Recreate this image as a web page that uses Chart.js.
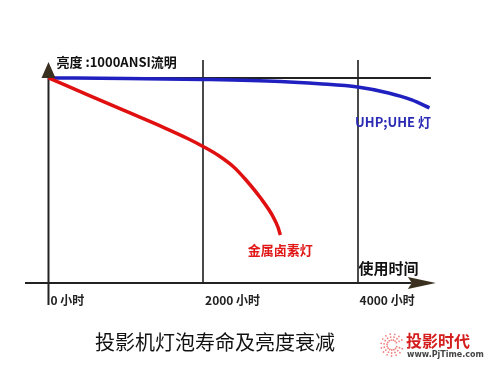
<!DOCTYPE html>
<html>
<head>
<meta charset="utf-8">
<script src="https://cdn.jsdelivr.net/npm/chart.js@4/dist/chart.umd.min.js"></script>
<style>
  html, body { margin: 0; padding: 0; background: #fff; }
  #wrap { width: 500px; height: 375px; }
</style>
</head>
<body>
<div id="wrap"><canvas id="lampChart" width="500" height="375"></canvas></div>
<script>
// Datos del gráfico
const metalHalideHours = [0, 500, 1000, 1500, 1800, 2000, 2200, 2400, 2550, 2750, 2900, 2970, 3000];
const metalHalideLumens = [1000, 919, 838, 757, 705, 666, 622, 565, 505, 412, 328, 272, 234];
const uhpHours = [0, 1000, 2000, 3000, 3500, 4000, 4400, 4700, 4930];
const uhpLumens = [1000, 998, 993, 983, 972, 956, 927, 893, 854];
const gridHours = [2000, 4000];
const tickHours = [0, 2000, 4000];
const tickLabels = ['0 小时', '2000 小时', '4000 小时'];
const seriesNames = ['金属卤素灯', 'UHP;UHE 灯'];

const CJK = '"Noto Sans CJK SC", "Noto Sans", sans-serif';

const toPoints = (xs, ys) => xs.map((x, i) => ({ x: x, y: ys[i] }));

// Ejes, flechas y textos
const decorPlugin = {
    id: 'decor',
    beforeDatasetsDraw(chart) {
        const ctx = chart.ctx;
        const xs = chart.scales.x;
        const ys = chart.scales.y;
        const x0 = xs.getPixelForValue(0);
        const yTop = ys.getPixelForValue(1000);
        const yBase = ys.getPixelForValue(0);
        ctx.save();
        ctx.lineCap = 'butt';

        // líneas verticales 2000 / 4000
        ctx.strokeStyle = '#4a4a4a';
        ctx.lineWidth = 2;
        gridHours.forEach(h => {
            const px = Math.round(xs.getPixelForValue(h));
            ctx.beginPath();
            ctx.moveTo(px, yTop - 18);
            ctx.lineTo(px, yBase);
            ctx.stroke();
        });

        // línea de referencia superior
        ctx.strokeStyle = '#222';
        ctx.beginPath();
        ctx.moveTo(x0, yTop);
        ctx.lineTo(xs.getPixelForValue(5000) - 4, yTop);
        ctx.stroke();

        // eje X
        ctx.beginPath();
        ctx.moveTo(xs.getPixelForValue(-304), yBase);
        ctx.lineTo(xs.getPixelForValue(4700), yBase);
        ctx.stroke();

        // eje Y
        ctx.beginPath();
        ctx.moveTo(x0, ys.getPixelForValue(-107));
        ctx.lineTo(x0, yTop - 6);
        ctx.stroke();
        ctx.restore();
    },
    afterDatasetsDraw(chart) {
        const ctx = chart.ctx;
        const xs = chart.scales.x;
        const ys = chart.scales.y;
        const x0 = xs.getPixelForValue(0);
        const yTop = ys.getPixelForValue(1000);
        const yBase = ys.getPixelForValue(0);
        ctx.save();

        // flecha eje Y
        ctx.fillStyle = '#3a3020';
        ctx.beginPath();
        ctx.moveTo(x0, yTop - 16);
        ctx.lineTo(x0 - 7, yTop);
        ctx.lineTo(x0 + 7, yTop);
        ctx.closePath();
        ctx.fill();

        // flecha eje X
        const xa = xs.getPixelForValue(4650);
        ctx.beginPath();
        ctx.moveTo(xa + 28, yBase);
        ctx.lineTo(xa, yBase - 6);
        ctx.lineTo(xa + 4, yBase);
        ctx.lineTo(xa, yBase + 6);
        ctx.closePath();
        ctx.fill();

        ctx.textBaseline = 'middle';
        ctx.textAlign = 'left';

        // título eje Y
        ctx.fillStyle = '#111';
        ctx.font = 'bold 13px ' + CJK;
        ctx.fillText('亮度 :1000ANSI流明', x0 + 8, yTop - 16);

        // título eje X
        ctx.font = 'bold 15px ' + CJK;
        ctx.fillText('使用时间', xs.getPixelForValue(4000) + 1, yBase - 15);

        // etiquetas de horas
        ctx.font = 'bold 12px ' + CJK;
        ctx.fillStyle = '#222';
        tickHours.forEach((h, i) => {
            ctx.fillText(tickLabels[i], xs.getPixelForValue(h) + 2, yBase + 17);
        });

        // nombres de series
        ctx.font = 'bold 13px ' + CJK;
        ctx.fillStyle = '#e01818';
        ctx.textAlign = 'center';
        ctx.fillText(seriesNames[0], xs.getPixelForValue(3000), ys.getPixelForValue(160));
        ctx.fillStyle = '#2a2ab4';
        ctx.textAlign = 'right';
        ctx.fillText(seriesNames[1], xs.getPixelForValue(4950), ys.getPixelForValue(785));

        // pie de figura
        ctx.textAlign = 'left';
        ctx.fillStyle = '#111';
        ctx.font = '20px ' + CJK;
        ctx.fillText('投影机灯泡寿命及亮度衰减', 95, 342);

        // logo
        ctx.fillStyle = '#f08080';
        for (let a = 0.35; a < 5.9; a += 0.42) {
            for (let r = 5; r <= 11; r += 3) {
                ctx.beginPath();
                ctx.arc(392 + Math.cos(a) * r, 345 + Math.sin(a) * r, 0.9, 0, Math.PI * 2);
                ctx.fill();
            }
        }
        ctx.fillStyle = '#d41e1e';
        ctx.font = 'bold 16px ' + CJK;
        ctx.fillText('投影时代', 406, 341);
        ctx.fillStyle = '#444';
        ctx.font = 'bold 8px "DejaVu Sans", sans-serif';
        ctx.fillText('www.PjTime.com', 407, 355);
        ctx.restore();
    }
};

new Chart(document.getElementById('lampChart').getContext('2d'), {
    type: 'line',
    data: {
        datasets: [
            {
                label: seriesNames[0],
                data: toPoints(metalHalideHours, metalHalideLumens),
                borderColor: '#e01010',
                borderWidth: 3.5,
                pointRadius: 0,
                cubicInterpolationMode: 'monotone'
            },
            {
                label: seriesNames[1],
                data: toPoints(uhpHours, uhpLumens),
                borderColor: '#2020c0',
                borderWidth: 3.5,
                pointRadius: 0,
                cubicInterpolationMode: 'monotone'
            }
        ]
    },
    options: {
        responsive: false,
        animation: false,
        layout: { padding: { left: 25, right: 60, top: 55, bottom: 70 } },
        plugins: { legend: { display: false }, tooltip: { enabled: false } },
        scales: {
            x: { type: 'linear', min: -304, max: 5066, display: false },
            y: { type: 'linear', min: -107, max: 1112, display: false }
        }
    },
    plugins: [decorPlugin]
});
</script>
</body>
</html>
